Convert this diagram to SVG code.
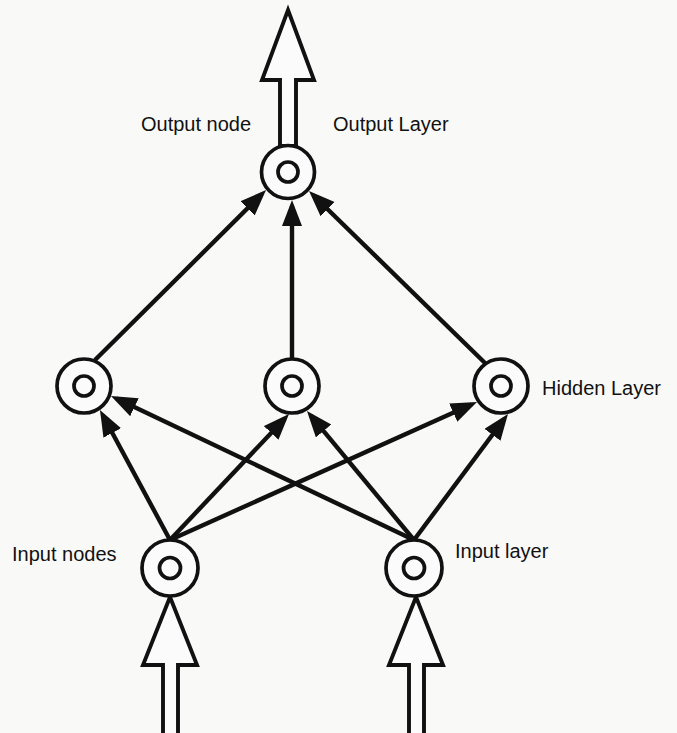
<svg xmlns="http://www.w3.org/2000/svg" width="677" height="733" viewBox="0 0 677 733">
<style>
.bg{fill:#f9f9f8}
.outer,.inner{fill:#fbfbfb;stroke:#111;stroke-width:3.7}
.link{stroke:#111;stroke-width:4.4;fill:none}
.big{fill:#fbfbfb;stroke:#111;stroke-width:3.9;stroke-linejoin:miter}
.lbl{font-family:"Liberation Sans",Arial,sans-serif;font-size:20px;fill:#111}
</style>
<defs>
<marker id="ah" markerUnits="userSpaceOnUse" markerWidth="28" markerHeight="22" viewBox="0 0 28 22" refX="20" refY="10" orient="auto">
<path d="M0,0 L26,10 L0,20 z" fill="#111"/>
</marker>
</defs>
<rect class="bg" x="0" y="0" width="677" height="733"/>
<g id="connectors">
<line class="link" x1="170" y1="540" x2="102.8" y2="415.3" marker-end="url(#ah)"/>
<line class="link" x1="414" y1="540" x2="116.4" y2="398.6" marker-end="url(#ah)"/>
<line class="link" x1="170" y1="540" x2="284.9" y2="418.4" marker-end="url(#ah)"/>
<line class="link" x1="414" y1="540" x2="310.8" y2="415.6" marker-end="url(#ah)"/>
<line class="link" x1="170" y1="540" x2="471.5" y2="404.5" marker-end="url(#ah)"/>
<line class="link" x1="414" y1="540" x2="504.4" y2="418.8" marker-end="url(#ah)"/>
<line class="link" x1="95" y1="360" x2="261.8" y2="194.2" marker-end="url(#ah)"/>
<line class="link" x1="292" y1="359" x2="292" y2="206" marker-end="url(#ah)"/>
<line class="link" x1="485" y1="363" x2="313.3" y2="195.2" marker-end="url(#ah)"/>
<polygon id="output-arrow" class="big" points="288,10 314,80 296,80 296,146 280,146 280,80 262,80"/>
<polygon id="input-arrow-left" class="big" points="170,597 197,665 178,665 178,740 163,740 163,665 143,665"/>
<polygon id="input-arrow-right" class="big" points="416,597 443,665 424,665 424,740 409,740 409,665 389,665"/>
</g>
<g id="output-node"><circle class="outer" cx="288" cy="172" r="26.5"/><circle class="inner" cx="288" cy="172" r="10"/></g>
<g id="hidden-left"><circle class="outer" cx="84" cy="386" r="27"/><circle class="inner" cx="84" cy="386" r="10"/></g>
<g id="hidden-middle"><circle class="outer" cx="292" cy="386" r="27"/><circle class="inner" cx="292" cy="386" r="10"/></g>
<g id="hidden-right"><circle class="outer" cx="501" cy="386" r="27"/><circle class="inner" cx="501" cy="386" r="10"/></g>
<g id="input-left"><circle class="outer" cx="170" cy="568" r="28"/><circle class="inner" cx="170" cy="568" r="10.5"/></g>
<g id="input-right"><circle class="outer" cx="414" cy="568" r="28"/><circle class="inner" cx="414" cy="568" r="10.5"/></g>
<g id="labels">
<text class="lbl" x="141" y="131">Output node</text>
<text class="lbl" x="333" y="131">Output Layer</text>
<text class="lbl" x="542" y="395">Hidden Layer</text>
<text class="lbl" x="12" y="561">Input nodes</text>
<text class="lbl" x="455" y="558">Input layer</text>
</g>
</svg>
